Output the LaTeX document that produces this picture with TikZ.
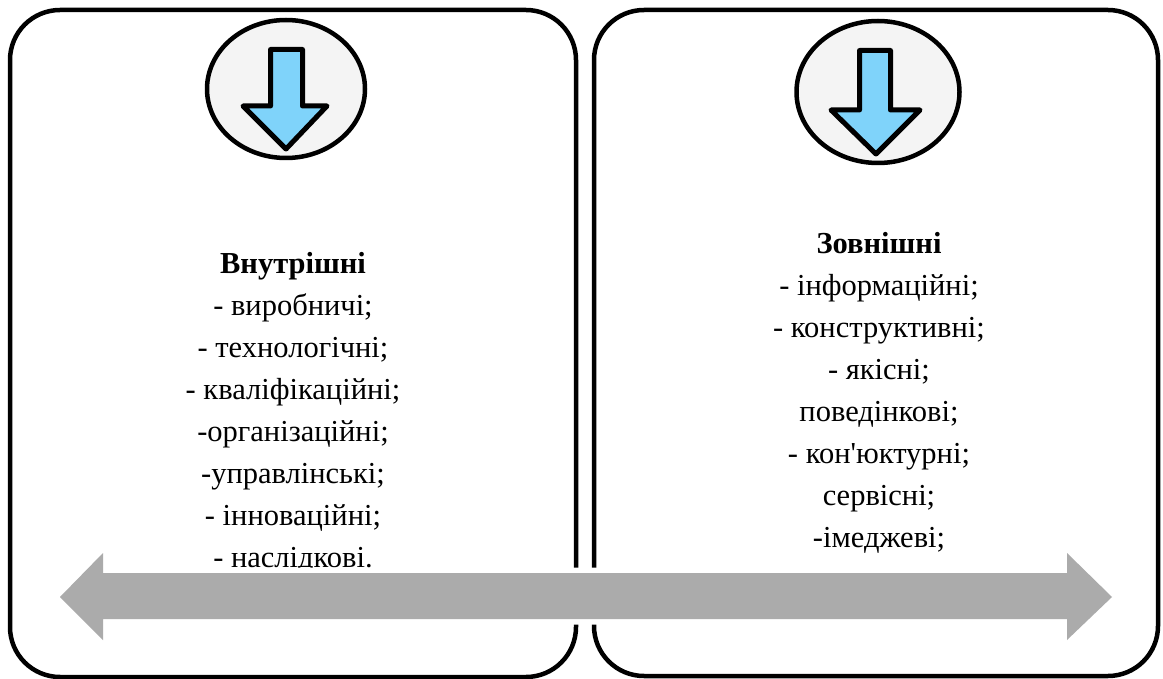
\documentclass[tikz,border=0pt]{standalone}
\usepackage{fontspec}
\setmainfont{Liberation Serif}[Ligatures=TeXOff]
\usetikzlibrary{shapes.geometric}
\definecolor{arrowblue}{RGB}{127,211,250}
\definecolor{bandgrey}{RGB}{171,171,171}
\definecolor{ovalfill}{RGB}{244,244,244}
\begin{document}
\begin{tikzpicture}[x=1pt,y=-1pt,
  panel/.style={draw=black, line width=4.5pt, rounded corners=50pt, fill=none, inner sep=0pt, outer sep=0pt},
  oval/.style={ellipse, draw=black, line width=4.5pt, fill=ovalfill, inner sep=0pt},
  downarrow/.style={draw=black, line width=5pt, line join=round, fill=arrowblue},
  listtext/.style={align=center, font=\fontsize{30.5}{42}\selectfont, inner sep=0pt, anchor=base},
  band/.style={fill=bandgrey, preaction={draw=white, line width=11pt, line join=miter}}
]
\useasboundingbox (0,0) rectangle (1163,679);
\fill[white] (0,0) rectangle (1163,679);

% panels
\node[panel, minimum width=566pt, minimum height=667pt] (left) at (293,343.5) {};
\node[panel, minimum width=564pt, minimum height=666pt] (right) at (876,343) {};

% ovals with down arrows
\node[oval, minimum width=158pt, minimum height=138pt] (lo) at (286,89) {};
\node[oval, minimum width=163pt, minimum height=142pt] (ro) at (878,92) {};

\draw[downarrow] (270.5,49.5) -- (302.5,49.5) -- (302.5,106) -- (327,106) -- (286,149)
  -- (243,106) -- (270.5,106) -- cycle;
\draw[downarrow] (859.5,50.5) -- (890.5,50.5) -- (890.5,110) -- (920,110) -- (876,154)
  -- (831,110) -- (859.5,110) -- cycle;

% texts (base anchor = baseline of last line)
\node[listtext] (ltext) at (293,567) {\textbf{Внутрішні}\\- виробничі;\\- технологічні;\\- кваліфікаційні;\\-організаційні;\\-управлінські;\\- інноваційні;\\- наслідкові.};
\node[listtext] (rtext) at (879,547) {\textbf{Зовнішні}\\- інформаційні;\\- конструктивні;\\- якісні;\\поведінкові;\\- кон'юктурні;\\сервісні;\\-імеджеві;};

% grey double arrow
\fill[band] (60,597) -- (103,553) -- (103,573) -- (1067,573) -- (1067,553) -- (1112,597)
  -- (1067,640) -- (1067,619) -- (103,619) -- (103,640) -- cycle;
\end{tikzpicture}
\end{document}
